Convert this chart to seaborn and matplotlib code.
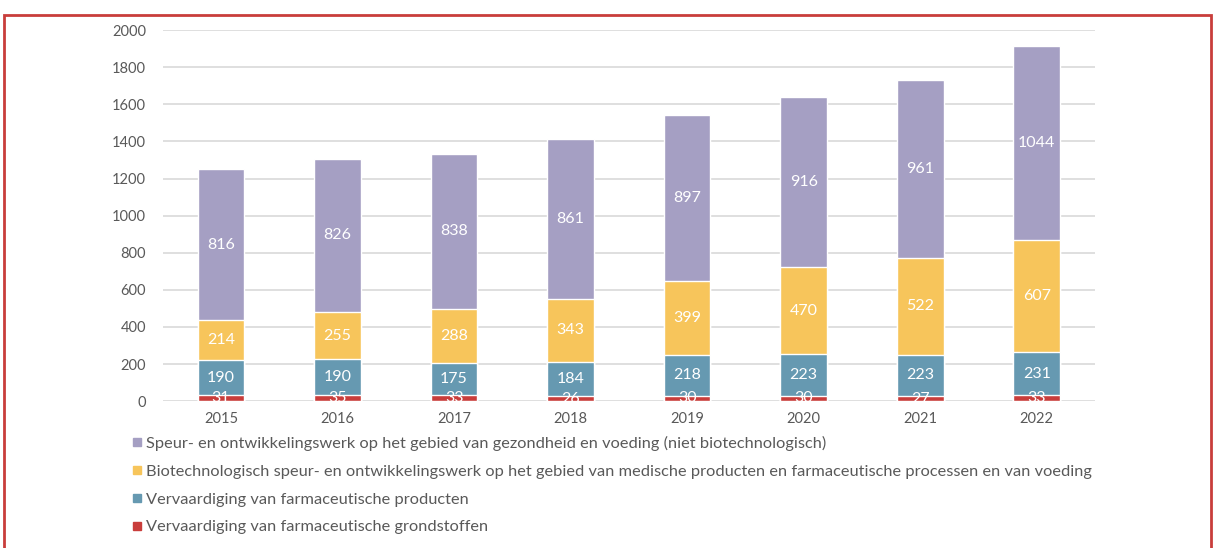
import numpy as np
import pandas as pd
import matplotlib.pyplot as plt
import seaborn as sns
from matplotlib.patches import Rectangle
from matplotlib.lines import Line2D

years = ["2015", "2016", "2017", "2018", "2019", "2020", "2021", "2022"]
grondstoffen = [31, 35, 33, 26, 30, 30, 27, 33]
producten = [190, 190, 175, 184, 218, 223, 223, 231]
biotech = [214, 255, 288, 343, 399, 470, 522, 607]
speur = [816, 826, 838, 861, 897, 916, 961, 1044]

labels = [
    "Speur- en ontwikkelingswerk op het gebied van gezondheid en voeding (niet biotechnologisch)",
    "Biotechnologisch speur- en ontwikkelingswerk op het gebied van medische producten en farmaceutische processen en van voeding",
    "Vervaardiging van farmaceutische producten",
    "Vervaardiging van farmaceutische grondstoffen",
]
colors = ["#A59FC3", "#F7C55B", "#6699B1", "#C93D3B"]

sns.set_style("white")
plt.rcParams["font.family"] = ["Lato", "DejaVu Sans"]
grey = "#595959"

df = pd.DataFrame({"year": years, "red": grondstoffen, "blue": producten,
                   "yellow": biotech, "purple": speur})
df["c1"] = df["red"]
df["c2"] = df["c1"] + df["blue"]
df["c3"] = df["c2"] + df["yellow"]
df["c4"] = df["c3"] + df["purple"]

fig = plt.figure(figsize=(12.14, 5.48), dpi=100)
ax = fig.add_axes([0.134, 0.268, 0.768, 0.677])

# stacked bars by overlaying cumulative totals
for col, c in zip(["c4", "c3", "c2", "c1"], colors):
    sns.barplot(data=df, x="year", y=col, color=c, width=0.4, ax=ax,
                saturation=1, zorder=3)

# segment labels
segs = [("red", "c1"), ("blue", "c2"), ("yellow", "c3"), ("purple", "c4")]
for i in range(len(years)):
    for seg, cum in segs:
        v = df.loc[i, seg]
        mid = df.loc[i, cum] - v / 2
        ax.text(i, mid, str(v), ha="center", va="center", color="white",
                fontsize=11.5, zorder=5)

ax.set_ylim(0, 2000)
ax.set_xlim(-0.5, 7.5)
ax.set_yticks(range(0, 2001, 200))
ax.yaxis.grid(True, color="#D9D9D9", lw=1.2, zorder=0)
ax.set_axisbelow(True)
for s in ax.spines.values():
    s.set_visible(False)
ax.tick_params(axis="both", length=0, labelsize=10.5, colors=grey)
ax.tick_params(axis="y", pad=12)
ax.tick_params(axis="x", pad=8)
ax.set_xlabel("")
ax.set_ylabel("")

handles = [Line2D([0], [0], marker="s", color="none", markerfacecolor=c,
                  markeredgecolor=c, markersize=6) for c in colors]
fig.legend(handles, labels, loc="upper left", bbox_to_anchor=(0.103, 0.217),
           frameon=False, fontsize=11.8, labelcolor=grey, handlelength=0.6,
           handletextpad=0.25, labelspacing=0.82, borderaxespad=0)

# red frame around the figure
fig.patches.append(Rectangle((4 / 1214, -0.1), 1 - 7 / 1214, 1.1 - 15 / 548,
                             transform=fig.transFigure, fill=False,
                             edgecolor="#C93D3B", lw=2))

fig.savefig("out.png", dpi=100)
